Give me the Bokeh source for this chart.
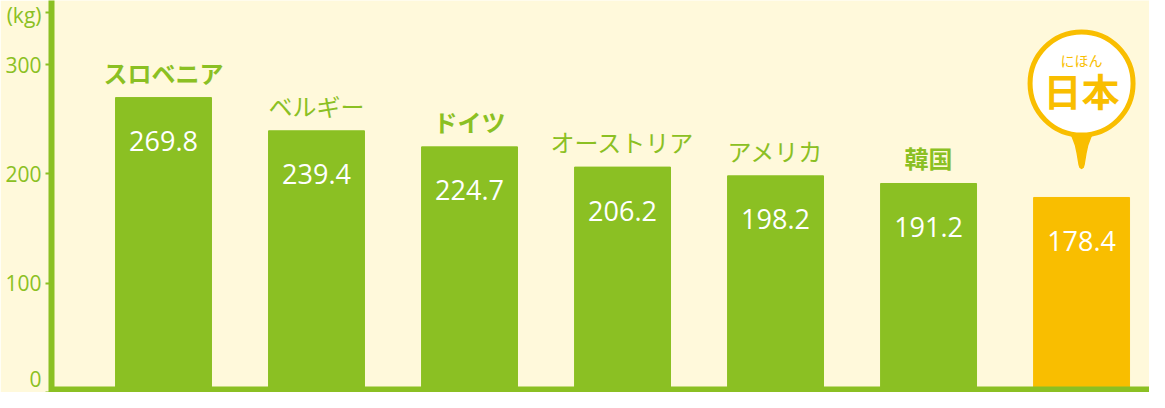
from bokeh.plotting import figure
from bokeh.models import Range1d, FixedTicker, ColumnDataSource, Span
from bokeh.core.properties import value, field
from bokeh.embed import file_html
from bokeh.resources import INLINE

# ---- data ----
countries = ["スロベニア", "ベルギー", "ドイツ", "オーストリア", "アメリカ", "韓国", "日本"]
amounts = [269.8, 239.4, 224.7, 206.2, 198.2, 191.2, 178.4]
name_styles = ["bold", "normal", "bold", "normal", "normal", "bold", "bold"]
highlight = "日本"
highlight_ruby = "にほん"
y_ticks = [0, 100, 200, 300]
unit_label = "(kg)"

# ---- style ----
GREEN = "#8BC023"
YELLOW = "#F9BE00"
BG = "#FFF9DB"
WHITE = "#FFFFFF"
JP = "Noto Sans CJK JP"
NUM = "Open Sans"

W, H = 1149, 392
LEFT = 51
Y_MAX = 358.6
X_START, X_END = -0.732, 6.444
k = Y_MAX / H                        # data units per pixel (vertical)
kx = (X_END - X_START) / (W - LEFT)  # data units per pixel (horizontal)
UNIT_POS = 348                       # where the unit label sits on the axis

p = figure(width=W, height=H, output_backend="svg", toolbar_location=None,
           x_range=Range1d(X_START, X_END), y_range=Range1d(0, Y_MAX),
           x_axis_location=None, min_border_left=LEFT, min_border_right=0,
           min_border_top=0, min_border_bottom=0)
p.background_fill_color = BG
p.border_fill_color = BG
p.outline_line_color = None
p.grid.visible = False

ax = p.yaxis[0]
ax.ticker = FixedTicker(ticks=y_ticks + [UNIT_POS])
ax.major_label_overrides = {UNIT_POS: unit_label}
ax.axis_line_color = GREEN
ax.axis_line_width = 6
ax.major_tick_line_color = GREEN
ax.major_tick_line_width = 2
ax.major_tick_out = 6
ax.major_tick_in = 0
ax.minor_tick_line_color = None
ax.major_label_text_color = GREEN
ax.major_label_text_font = NUM
ax.major_label_text_font_size = "21px"
ax.major_label_standoff = 4

idx = list(range(len(countries)))
colors = [YELLOW if c == highlight else GREEN for c in countries]
src = ColumnDataSource(dict(
    x=idx, top=amounts, color=colors,
    vlabel=[f"{v:.1f}" for v in amounts],
    vy=[v - 43.5 * k for v in amounts],
))

p.vbar(x="x", top="top", width=0.627, color="color", source=src)

# value labels inside bars
p.text(x="x", y="vy", text="vlabel", source=src, text_color=WHITE,
       text_font=value(NUM), text_font_size="27px", text_align="center",
       text_baseline="alphabetic")

# country names above bars (not for the highlighted one)
others = [i for i, c in enumerate(countries) if c != highlight]
src_names = ColumnDataSource(dict(
    x=[idx[i] for i in others], y=[amounts[i] + 8 * k for i in others],
    name=[countries[i] for i in others], style=[name_styles[i] for i in others],
))
p.text(x="x", y="y", text="name", source=src_names, text_color=GREEN,
       text_font=value(JP), text_font_size="24px", text_font_style=field("style"),
       text_align="center", text_baseline="bottom")

# baseline
p.add_layout(Span(location=0, dimension="width", line_color=GREEN, line_width=12))

# callout for the highlighted country
hi = countries.index(highlight)
hx, hv = idx[hi], amounts[hi]
cy = hv + 114 * k
half = [16, 9, 6, 4.5, 2.5, 1.5, 0]
rise = [74, 60, 52, 45, 33, 30, 29]
tail_x = [hx - h * kx for h in half] + [hx + h * kx for h in reversed(half[:-1])]
tail_y = [hv + r * k for r in rise] + [hv + r * k for r in reversed(rise[:-1])]
p.patch(tail_x, tail_y, fill_color=YELLOW, line_color=YELLOW, line_width=1.5,
        line_join="round")
p.scatter([hx], [cy], marker="circle", size=103, fill_color=WHITE,
          line_color=YELLOW, line_width=5)
p.text([hx], [cy - 6.5 * k], text=[highlight], text_color=YELLOW,
       text_font=value(JP), text_font_size="38px", text_font_style="bold",
       text_align="center", text_baseline="middle")
p.text([hx], [cy + 23 * k], text=[highlight_ruby], text_color=YELLOW,
       text_font=value(JP), text_font_size="14px",
       text_align="center", text_baseline="middle")

open("out.html", "w").write(file_html(p, INLINE))
